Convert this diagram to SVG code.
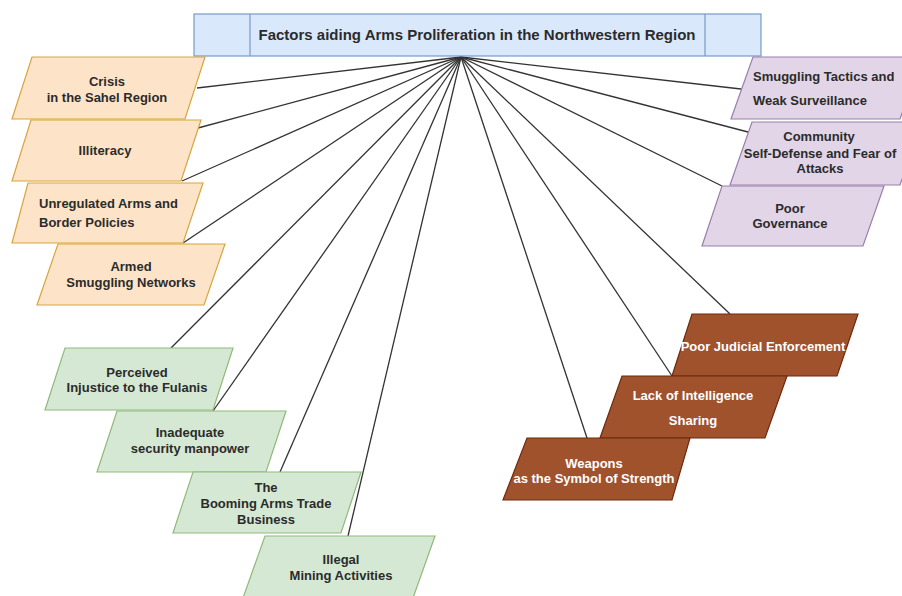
<svg xmlns="http://www.w3.org/2000/svg" width="902" height="596" viewBox="0 0 902 596">
<style>
text{font-family:"Liberation Sans",Arial,sans-serif;font-weight:bold;font-size:13px;fill:#2b2b2b;text-anchor:middle}
.title{font-size:15px}
.l{text-anchor:start}
.w{fill:#ffffff}
.or{fill:#fde4c8;stroke:#d8a53c;stroke-width:1.2}
.gr{fill:#d5e8d4;stroke:#8fba7a;stroke-width:1.2}
.pu{fill:#e1d5e7;stroke:#9a7fab;stroke-width:1.2}
.br{fill:#a0522d;stroke:#6d2a0c;stroke-width:1.2}
.bl{fill:#dae8fc;stroke:#7b98c6;stroke-width:1.2}
#connectors line{stroke:#333;stroke-width:1.3}
</style>
<rect width="902" height="596" fill="#ffffff"/>
<g id="connectors">
<line x1="461" y1="57" x2="197" y2="88"/>
<line x1="461" y1="57" x2="198" y2="128"/>
<line x1="461" y1="57" x2="182" y2="181"/>
<line x1="461" y1="57" x2="183" y2="243"/>
<line x1="461" y1="57" x2="171" y2="348"/>
<line x1="461" y1="57" x2="213" y2="411"/>
<line x1="461" y1="57" x2="280" y2="472"/>
<line x1="461" y1="57" x2="348" y2="536"/>
<line x1="461" y1="57" x2="741" y2="89"/>
<line x1="461" y1="57" x2="748" y2="132"/>
<line x1="461" y1="57" x2="722" y2="186"/>
<line x1="461" y1="57" x2="730" y2="314"/>
<line x1="461" y1="57" x2="672" y2="376"/>
<line x1="461" y1="57" x2="587" y2="438"/>
</g>
<g id="title">
<rect class="bl" x="194" y="14" width="567" height="42"/>
<line x1="250" y1="14" x2="250" y2="56" stroke="#7b98c6" stroke-width="1.2"/>
<line x1="705" y1="14" x2="705" y2="56" stroke="#7b98c6" stroke-width="1.2"/>
<text class="title" x="477" y="40">Factors aiding Arms Proliferation in the Northwestern Region</text>
</g>
<g id="crisis">
<polygon class="or" points="32,57 205,57 185,119 12,119"/>
<text x="107" y="86">Crisis</text>
<text x="107" y="102">in the Sahel Region</text>
</g>
<g id="illiteracy">
<polygon class="or" points="31,120 201,120 181,181 12,181"/>
<text x="105" y="155">Illiteracy</text>
</g>
<g id="unregulated">
<polygon class="or" points="28,183 203,183 183,243 12,243"/>
<text class="l" x="39" y="208">Unregulated Arms and</text>
<text class="l" x="39" y="227">Border Policies</text>
</g>
<g id="armed">
<polygon class="or" points="58,244 225,244 204,305 37,305"/>
<text x="131" y="271">Armed</text>
<text x="131" y="287">Smuggling Networks</text>
</g>
<g id="smuggling">
<polygon class="pu" points="753,57 922,57 900,119 731,119"/>
<text class="l" x="753" y="81">Smuggling Tactics and</text>
<text class="l" x="753" y="105">Weak Surveillance</text>
</g>
<g id="community">
<polygon class="pu" points="752,122 922,122 900,185 730,185"/>
<text x="819" y="141">Community</text>
<text x="820" y="158">Self-Defense and Fear of</text>
<text x="820" y="173">Attacks</text>
</g>
<g id="governance">
<polygon class="pu" points="722,186 884,186 863,246 702,246"/>
<text x="790" y="213">Poor</text>
<text x="790" y="228">Governance</text>
</g>
<g id="perceived">
<polygon class="gr" points="65,348 233,348 213,410 45,410"/>
<text x="137" y="377">Perceived</text>
<text x="137" y="392">Injustice to the Fulanis</text>
</g>
<g id="inadequate">
<polygon class="gr" points="117,411 286,411 266,472 97,472"/>
<text x="190" y="437">Inadequate</text>
<text x="190" y="453">security manpower</text>
</g>
<g id="booming">
<polygon class="gr" points="193,472 361,472 341,533 173,533"/>
<text x="266" y="492">The</text>
<text x="266" y="508">Booming Arms Trade</text>
<text x="266" y="524">Business</text>
</g>
<g id="illegal">
<polygon class="gr" points="265,536 435,536 413,598 243,598"/>
<text x="341" y="564">Illegal</text>
<text x="341" y="580">Mining Activities</text>
</g>
<g id="judicial">
<polygon class="br" points="692,314 858,314 837,376 672,376"/>
<text class="w" x="763" y="351">Poor Judicial Enforcement</text>
</g>
<g id="intelligence">
<polygon class="br" points="622,376 787,376 765,438 600,438"/>
<text class="w" x="693" y="400">Lack of Intelligence</text>
<text class="w" x="693" y="425">Sharing</text>
</g>
<g id="weapons">
<polygon class="br" points="527,438 690,438 672,500 503,500"/>
<text class="w" x="594" y="468">Weapons</text>
<text class="w" x="594" y="483">as the Symbol of Strength</text>
</g>
</svg>
